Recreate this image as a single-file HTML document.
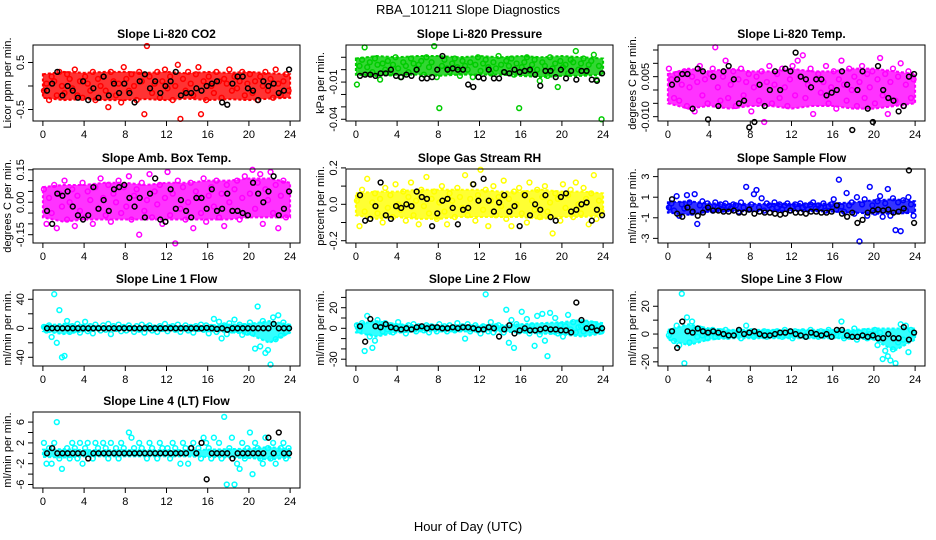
<!DOCTYPE html>
<html><head><meta charset="utf-8"><style>
html,body{margin:0;padding:0;background:#fff;}
svg{display:block;font-family:"Liberation Sans",Arial,sans-serif;}
</style></head><body>
<svg id="chart" width="936" height="540" viewBox="0 0 936 540">
<text x="468" y="14" text-anchor="middle" font-size="13">RBA_101211  Slope Diagnostics</text>
<text x="468" y="531" text-anchor="middle" font-size="13">Hour of Day (UTC)</text>
</svg>
<script>
const titles = ["Slope Li-820 CO2","Slope Li-820 Pressure","Slope Li-820 Temp.","Slope Amb. Box Temp.","Slope Gas Stream RH","Slope Sample Flow","Slope Line 1 Flow","Slope Line 2 Flow","Slope Line 3 Flow","Slope Line 4 (LT) Flow"];
const yTitles = ["Licor ppm per min.","kPa per min.","degrees C per min.","degrees C per min.","percent per min.","ml/min per min.","ml/min per min.","ml/min per min.","ml/min per min.","ml/min per min."];
const colors = ["#ff0000","#00cc00","#ff00ff","#ff00ff","#ffff00","#0000ff","#00ffff","#00ffff","#00ffff","#00ffff"];
const xTicks = [0,4,8,12,16,20,24];
const yDomains = [[-0.745,0.872],[-0.0414,0.0199],[-0.01162,0.01687],[-0.1884,0.1537],[-0.2126,0.194],[-3.45,3.74],[-52,52.8],[-36.6,37.2],[-23,31.7],[-6.67,7.94]];
const yTickVals = [[0.5,0,-0.5],[0.01,0,-0.01,-0.02,-0.03,-0.04],[0.015,0.01,0.005,0,-0.005,-0.01],[0.15,0.1,0.05,0,-0.05,-0.1,-0.15],[0.2,0.1,0,-0.1,-0.2],[3,1,-1,-3],[40,20,0,-20,-40],[30,20,10,0,-10,-20,-30],[20,10,0,-10,-20],[6,4,2,0,-2,-4,-6]];
const yTickLabels = [["0.5","","-0.5"],["","","-0.01","","","-0.04"],["","","0.005","","","-0.010"],["0.15","","","0.00","","","-0.15"],["0.2","","0.0","","-0.2"],["3","1","-1","-3"],["40","","0","","-40"],["","20","","0","","","-30"],["20","","0","","-20"],["6","","2","","-2","","-6"]];

// dense-band envelopes, every 2 hours (0..24)
const bandHi = [
[0.25,0.3,0.28,0.3,0.3,0.28,0.3,0.27,0.3,0.28,0.3,0.27,0.25],
[0.009,0.011,0.01,0.011,0.011,0.01,0.011,0.01,0.011,0.01,0.011,0.01,0.009],
[0.006,0.008,0.007,0.008,0.007,0.007,0.008,0.007,0.007,0.008,0.008,0.007,0.006],
[0.07,0.08,0.08,0.09,0.09,0.08,0.09,0.09,0.1,0.1,0.11,0.11,0.09],
[0.06,0.07,0.07,0.08,0.08,0.08,0.08,0.07,0.07,0.08,0.07,0.07,0.06],
[0.5,0.6,0.4,0.35,0.35,0.35,0.35,0.35,0.4,0.5,0.7,0.8,0.6],
[4,6,4,3,3,3,3,3,4,5,6,10,5],
[4,7,4,3,3,3,3,3,4,5,6,8,5],
[3,7,4,3,3,3,3,3,3,3,4,4,4],
[0.7,0.8,0.6,0.6,0.6,0.6,0.6,0.6,0.7,0.8,0.9,1.2,0.8]
];
const bandLo = [
[-0.25,-0.3,-0.28,-0.3,-0.3,-0.28,-0.3,-0.27,-0.3,-0.28,-0.3,-0.27,-0.25],
[-0.004,-0.005,-0.004,-0.004,-0.005,-0.004,-0.004,-0.004,-0.005,-0.006,-0.005,-0.005,-0.004],
[-0.005,-0.007,-0.006,-0.007,-0.006,-0.006,-0.007,-0.006,-0.006,-0.007,-0.007,-0.006,-0.005],
[-0.07,-0.09,-0.08,-0.08,-0.08,-0.08,-0.08,-0.08,-0.08,-0.08,-0.07,-0.07,-0.07],
[-0.06,-0.08,-0.07,-0.08,-0.08,-0.07,-0.07,-0.07,-0.07,-0.08,-0.07,-0.07,-0.06],
[-0.5,-0.7,-0.4,-0.35,-0.35,-0.35,-0.35,-0.35,-0.4,-0.5,-0.6,-0.6,-0.5],
[-4,-8,-4,-3,-3,-3,-3,-3,-4,-5,-8,-20,-6],
[-4,-8,-4,-3,-3,-3,-3,-3,-4,-5,-6,-8,-5],
[-4,-8,-4,-3,-3,-3,-3,-3,-3,-3,-4,-12,-4],
[-0.7,-0.8,-0.6,-0.6,-0.6,-0.6,-0.6,-0.6,-0.7,-0.8,-0.9,-1.2,-0.8]
];

const colorVals = [
[-0.1,0.05,-0.3,0.2,0.1,-0.2,0.3,0.0,-0.15,0.25,0.15,-0.05,0.35,-0.2,0.1,-0.25,0.2,0.05,-0.1,0.3,-0.3,0.15,0.0,0.2,-0.1,-0.45,0.3,0.1,-0.2,0.05,-0.35,0.4,0.15,-0.1,0.25,0.0,-0.3,0.3,0.1,-0.6,0.85,0.2,-0.15,0.05,0.3,-0.25,0.1,0.35,-0.05,0.2,-0.3,0.0,0.45,-0.7,0.15,-0.1,0.3,0.05,-0.2,0.25,0.4,-0.6,0.1,-0.3,0.2,0.0,-0.15,0.3,0.1,-0.25,0.15,0.05,0.35,-0.1,0.2,-0.05,0.1,0.3,-0.2,0.05,0.25,-0.15,0.1,-0.3,0.2,0.0,0.3,-0.1,0.15,-0.25,0.35,0.05,-0.2,0.1,0.25,-0.1],
[-0.012,0.003,0.008,0.018,0.002,0.006,-0.002,0.009,0.004,-0.008,0.005,0.0,0.007,-0.003,0.004,0.01,0.001,-0.006,0.006,0.003,-0.002,0.009,0.005,0.0,0.004,0.007,-0.004,0.01,0.002,0.006,0.019,-0.006,-0.031,0.003,0.008,0.001,-0.002,0.005,0.009,0.002,-0.005,0.007,0.003,0.0,0.006,-0.006,0.004,0.01,-0.001,0.005,0.008,0.002,-0.003,0.006,0.001,0.011,0.004,-0.002,0.007,0.003,0.009,-0.004,0.005,-0.031,0.002,0.006,0.01,-0.001,0.004,0.008,0.0,-0.009,0.006,0.003,-0.005,0.01,0.001,0.005,-0.014,0.007,0.002,0.004,-0.003,0.008,0.006,0.015,0.0,0.005,0.009,-0.002,0.004,0.007,0.012,-0.008,0.003,-0.04],
[0.008,0.004,-0.003,0.006,-0.004,0.002,0.007,-0.006,0.001,0.005,-0.008,0.003,0.009,-0.002,0.004,-0.005,0.006,0.008,0.016,0.001,-0.004,0.005,0.011,-0.003,0.002,0.007,-0.006,0.004,0.008,-0.002,0.003,0.006,-0.008,0.001,0.005,-0.004,0.007,-0.012,0.003,0.009,-0.005,0.002,0.006,-0.003,0.008,0.001,-0.006,0.004,0.009,-0.002,0.011,0.005,0.013,-0.003,0.002,0.008,-0.009,0.004,0.006,-0.001,0.003,0.009,-0.005,0.001,0.007,-0.007,0.004,0.011,0.002,-0.004,0.008,0.0,0.005,-0.006,0.003,0.009,-0.003,0.006,0.001,0.007,-0.005,0.004,0.012,-0.002,0.006,-0.009,0.003,0.008,-0.004,0.005,0.01,-0.006,0.002,0.007,-0.003,0.004],
[0.06,-0.1,0.02,-0.05,0.08,-0.12,0.04,-0.02,0.1,-0.08,0.0,0.06,-0.11,0.03,-0.04,0.09,-0.07,0.05,0.01,-0.1,0.07,-0.03,0.11,0.02,-0.06,0.08,-0.09,0.04,0.0,0.1,-0.05,0.07,-0.02,0.12,-0.08,0.03,0.06,-0.15,0.09,-0.04,0.01,0.13,-0.07,0.05,-0.01,0.08,-0.1,0.02,0.14,-0.06,0.04,-0.19,0.1,-0.03,0.07,-0.08,0.0,0.09,-0.12,0.05,0.02,-0.05,0.11,-0.09,0.03,0.07,-0.02,0.1,-0.07,0.04,-0.11,0.08,0.0,-0.04,0.06,0.1,-0.08,0.02,0.12,-0.06,0.04,0.15,-0.03,0.09,0.13,-0.1,0.06,0.01,0.14,-0.05,0.08,-0.12,0.03,0.1,-0.07,0.05],
[0.02,-0.12,0.08,-0.04,0.14,-0.08,0.01,0.06,-0.05,0.03,-0.1,0.09,-0.02,0.05,-0.07,0.11,0.0,-0.03,0.07,-0.09,0.04,0.12,-0.06,0.02,-0.11,0.08,-0.01,0.15,-0.05,0.03,0.07,-0.08,0.01,0.1,-0.04,-0.11,0.06,0.02,-0.07,0.09,0.04,-0.02,0.16,-0.06,0.03,0.11,-0.09,0.05,0.19,-0.03,0.08,-0.12,0.02,0.1,-0.06,0.04,-0.01,0.13,-0.08,0.03,-0.12,0.07,0.0,0.09,-0.05,0.06,-0.1,0.12,0.02,-0.03,0.08,-0.07,0.04,0.1,-0.04,0.01,-0.16,0.06,0.03,-0.09,0.11,-0.02,0.05,0.08,-0.07,0.12,0.0,-0.05,0.09,0.03,-0.11,0.06,0.16,-0.08,0.02,-0.04],
[0.0,0.4,-0.3,1.1,-0.8,0.3,-0.1,1.2,0.5,-0.5,1.3,-1.6,0.2,0.6,-0.2,0.4,0.1,-0.3,0.5,0.0,0.3,-0.2,0.4,0.1,-0.1,0.3,0.2,-0.4,0.5,0.0,2.0,-0.2,0.3,1.3,1.7,0.0,0.9,-0.3,0.4,0.2,-0.1,0.5,0.0,0.3,-0.2,0.2,0.4,-0.3,0.1,0.3,-0.1,0.4,0.0,0.2,-0.2,0.3,0.5,-0.1,0.2,0.0,0.4,-0.3,0.1,0.3,0.8,-0.2,2.7,0.1,-0.4,1.4,0.2,0.5,-0.6,1.0,-3.3,0.3,0.8,-0.8,2.0,0.2,-0.5,0.6,1.1,-0.9,0.4,1.8,-0.8,0.9,-2.2,0.5,-2.3,0.7,-0.3,1.0,0.3,-0.8],
[2,-3,4,-12,47,-20,25,-40,-38,10,-5,3,-2,6,-6,2,9,-4,3,-7,5,1,-3,4,-2,6,-8,3,-1,5,-4,2,-3,4,0,-5,3,-2,5,-6,2,4,-3,1,-5,3,-1,6,-4,2,3,-2,5,-5,1,4,-3,2,-6,3,-1,5,-2,4,-7,2,13,-5,9,-14,4,-8,7,-3,12,-2,5,-9,3,-6,8,-7,-28,30,-25,10,-34,-30,-50,15,-15,18,-10,8,-5,2],
[3,-2,5,-22,12,-8,-19,-12,8,2,-3,5,-1,3,-4,2,6,-2,1,-5,3,-1,4,-3,2,0,-2,3,-4,2,1,-3,4,-1,2,-3,3,0,-2,5,-1,2,-10,4,-3,1,3,-2,-5,2,33,-3,6,-4,2,3,-1,-4,18,-14,8,-19,4,-3,16,-2,9,-5,3,-17,12,-6,14,-12,-27,15,-3,10,-5,3,-8,2,13,-1,6,-4,1,2,-3,5,0,-2,4,-1,2,-3],
[-1,2,-5,6,-8,29,-21,12,-6,9,3,-2,4,-1,2,-3,1,3,-2,0,2,-1,3,-2,1,-1,0,2,-3,1,6,-1,2,-2,0,1,-1,2,-2,0,1,-1,2,0,-2,3,-1,1,-3,2,0,-1,2,-2,1,3,-1,0,-2,2,-1,1,3,-2,0,-1,2,9,-3,1,-2,0,4,-4,1,-1,2,-3,0,-2,3,-8,1,-18,-12,-16,-19,-11,-21,-6,7,-4,6,-13,3,0],
[2,-2,1,-2,2,6,-1,-3,0,1,-1,2,1,-1,2,-2,1,2,0,-1,2,1,0,2,1,-1,2,0,1,-1,2,1,0,4,3,1,0,2,1,0,-1,2,1,0,-1,2,1,0,1,-1,2,1,0,-2,2,1,-2,1,2,0,1,-1,3,2,1,-1,3,0,2,-1,7,-6,1,3,-6,-2,-3,2,-1,1,4,-4,2,1,-1,-2,3,1,-1,2,-2,0,1,2,-1,1]
];
const blackVals = [
[-0.1,0.05,0.3,-0.2,0.0,-0.1,-0.25,0.1,-0.3,-0.05,-0.25,0.2,-0.2,0.05,-0.15,0.05,-0.15,-0.35,0.1,0.25,-0.05,0.1,-0.15,0.0,0.1,0.3,-0.2,-0.15,-0.15,-0.05,-0.1,0.0,0.05,0.1,-0.35,-0.4,0.05,0.2,0.2,-0.05,-0.1,-0.3,0.1,0.0,0.05,-0.15,-0.1,0.35],
[-0.005,-0.004,-0.004,-0.005,-0.003,-0.003,0.0,-0.005,-0.006,-0.004,-0.005,0.0,-0.007,-0.007,-0.006,0.0,0.011,0.0,0.001,0.0,0.0,-0.012,-0.014,-0.006,-0.007,0.0,-0.007,-0.007,-0.002,-0.003,0.0,-0.002,-0.001,0.0,-0.004,-0.013,-0.001,-0.001,-0.006,0.0,-0.007,-0.001,-0.008,-0.001,-0.001,-0.008,-0.009,-0.003],
[0.002,0.004,0.006,0.006,-0.007,0.008,0.007,-0.011,0.005,-0.006,0.007,0.009,0.004,-0.005,-0.004,-0.014,-0.012,0.002,-0.006,0.0,0.007,0.0,0.008,0.007,0.014,0.005,0.004,0.001,0.004,0.004,-0.002,-0.001,0.0,0.007,0.002,-0.015,0.0,0.007,-0.007,-0.012,0.009,0.0,-0.003,-0.004,-0.008,-0.006,0.005,0.006],
[-0.04,-0.1,0.04,0.03,0.05,-0.02,-0.06,-0.08,-0.06,0.07,-0.03,0.01,-0.04,0.06,0.07,0.08,0.02,-0.02,0.02,-0.07,0.04,0.11,-0.08,-0.09,0.06,-0.03,0.01,-0.04,-0.07,0.02,0.02,-0.03,0.06,-0.04,-0.03,0.04,-0.04,-0.04,-0.05,-0.06,0.09,0.04,0.0,0.05,0.12,-0.06,-0.03,0.05],
[0.05,-0.09,-0.08,-0.01,0.12,-0.06,-0.08,-0.01,-0.02,0.0,-0.01,0.07,0.04,0.03,-0.12,-0.05,0.02,0.03,-0.02,-0.11,-0.03,-0.02,0.11,0.02,0.14,0.02,-0.04,0.01,0.05,-0.04,-0.01,-0.12,0.05,-0.06,0.0,-0.03,0.05,-0.07,-0.09,0.04,0.06,-0.04,-0.03,0.0,0.01,-0.09,-0.03,-0.06],
[0.8,-0.6,-0.9,0.0,-0.4,-0.8,-0.5,0.0,-0.3,-0.3,-0.4,-0.4,-0.3,-0.5,-0.5,-0.2,-0.6,-0.4,-0.5,-0.5,-0.6,-0.7,-0.6,-0.3,-0.5,-0.5,-0.6,-0.4,-0.4,-0.5,-0.5,-0.4,0.2,-0.6,-0.9,-0.5,-1.5,-1.2,-0.5,-0.3,-0.2,-0.3,-0.2,-0.5,-0.4,-0.1,3.6,-1.5],
[0,0,0,0,0,0,0,0,0,0,0,0,0,0,0,0,0,0,0,0,0,0,0,0,0,0,0,0,0,0,0,0.5,0,-1,0,-2,0,0,0,0,0,0,0,0,6,0,0,0],
[2,-13,9,2,1,4,1,0,-1,0,-1,1,2,0,1,1,0,0,1,0,1,1,0,-1,-1,1,0,-8,-1,3,-5,-2,0,-2,-2,-1,0,-1,-1,-2,-2,-4,25,8,0,1,-2,0],
[2,-10,9,2,1,4,2,1,2,1,0,-1,-1,3,0,1,2,0,-1,-1,0,1,1,2,0,-1,-2,1,0,-1,0,-2,3,3,-1,-2,-2,-1,-2,-1,-3,-3,0,-3,-3,5,-4,1],
[0,1,0,0,0,0,0,0,-1,0,0,0,0,0,0,0,0,0,0,0,0,0,0,0,0,0,0,0,1,0,2,-5,0,0,0,0,-1,0,0,0,0,0,0,3,0,4,0,0]
];

const svg = document.getElementById('chart');
const NS = 'http://www.w3.org/2000/svg';
const colX = [33, 346, 658], boxW = 267;
const rowY = [[45,121],[169,243],[290,366],[412,488]];
function mk(tag, attrs, parent){const e=document.createElementNS(NS,tag);for(const k in attrs)e.setAttribute(k,attrs[k]);parent.appendChild(e);return e;}

titles.forEach((t,i)=>{
  const L = colX[i%3], R = L+boxW, T = rowY[Math.floor(i/3)][0], B = rowY[Math.floor(i/3)][1];
  const [lo,hi] = yDomains[i];
  const xs = h => L + (h+0.96)/25.92*(R-L);
  const ys = v => B - (v-lo)/(hi-lo)*(B-T);
  const g = mk('g',{},svg);
  
  
  const tt = mk('text',{x:(L+R)/2,y:T-7,'text-anchor':'middle','font-size':12,'font-weight':'bold'},g);
  tt.textContent = t;
  
  
  // dense band
  const bh = bandHi[i], bl = bandLo[i], bs = 24/(bh.length-1);
  let pts = bh.map((v,k)=>xs(k*bs)+','+ys(v));
  pts = pts.concat(bl.map((v,k)=>xs(k*bs)+','+ys(v)).reverse());
  const band = mk('polygon',{points:pts.join(' '),fill:colors[i],'fill-opacity':0.8,stroke:colors[i],'stroke-width':2,'stroke-dasharray':'3 2'},g);
  
  
  const cv = colorVals[i], cstep = 24/cv.length;
  cv.forEach((v,k)=>{
    const c = mk('circle',{cx:xs(k*cstep+0.1),cy:ys(v),r:2.4,fill:'none',stroke:colors[i],'stroke-width':1.5},g);
    
    
  });
  const bv = blackVals[i], bstep = 24/bv.length;
  bv.forEach((v,k)=>{
    const c = mk('circle',{cx:xs((k+1)*bstep-0.1),cy:ys(v),r:2.4,fill:'none',stroke:'#000','stroke-width':1.5},g);
    
    
  });
  const box = mk('rect',{x:L,y:T,width:R-L,height:B-T,fill:'none',stroke:'#000','stroke-width':1},g);
  
  
  xTicks.forEach(h=>{
    mk('line',{x1:xs(h),x2:xs(h),y1:B,y2:B+5,stroke:'#000'},g);
    const lb = mk('text',{x:xs(h),y:B+17,'text-anchor':'middle','font-size':11},g);
    lb.textContent = h;
    
    
  });
  yTickVals[i].forEach((v,k)=>{
    mk('line',{x1:L-5,x2:L,y1:ys(v),y2:ys(v),stroke:'#000'},g);
    if(yTickLabels[i][k]){
      const lb = mk('text',{x:0,y:0,'text-anchor':'middle','font-size':11,transform:`translate(${L-9},${ys(v)}) rotate(-90)`},g);
      lb.textContent = yTickLabels[i][k];
      
      
    }
  });
  const yl = mk('text',{x:0,y:0,'text-anchor':'middle','font-size':11,transform:`translate(${L-22},${(T+B)/2}) rotate(-90)`},g);
  yl.textContent = yTitles[i];
  
  
});
</script>
</body></html>
